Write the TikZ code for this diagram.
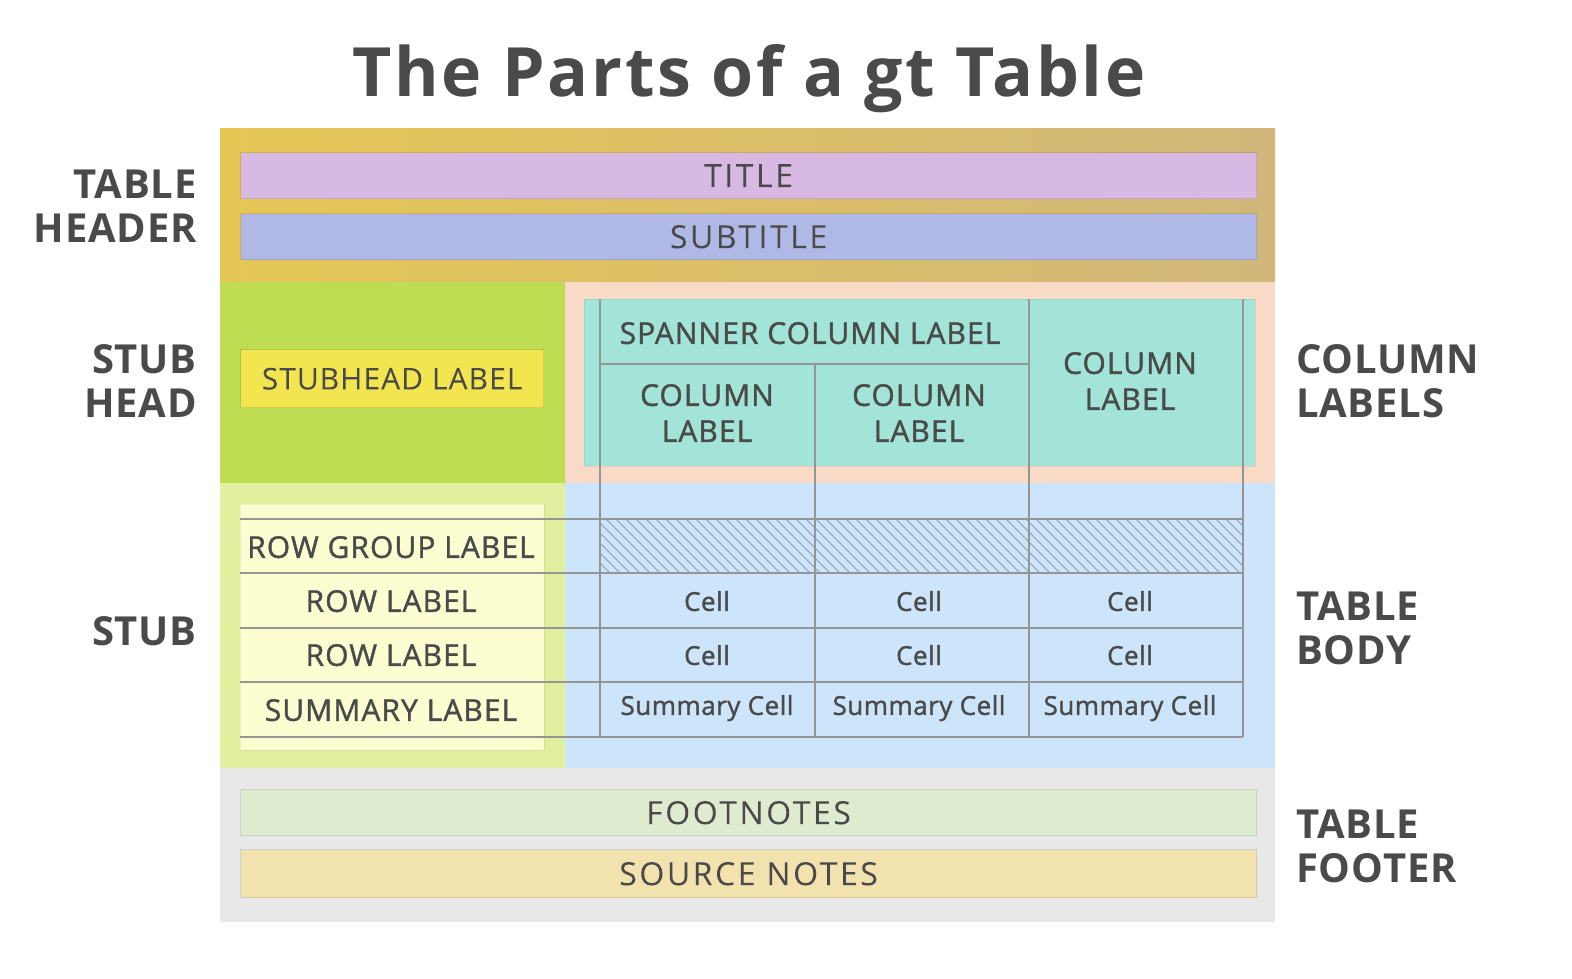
\documentclass[tikz,border=0pt]{standalone}
\usepackage{fontspec}
\setmainfont{Open Sans}
\newfontfamily\titlefont[LetterSpace=4]{Open Sans}
\newfontfamily\barfont[LetterSpace=8, FakeBold=1.3]{Open Sans}
\newfontfamily\labfont[LetterSpace=3.5, FakeBold=1.3]{Open Sans}
\newfontfamily\cellfont[LetterSpace=2, FakeBold=1.3]{Open Sans}
\newfontfamily\partfont[LetterSpace=2]{Open Sans}
\usepackage{xcolor}
\usepackage{tikz}
\usetikzlibrary{positioning}

\definecolor{ink}{HTML}{4A4A4A}
\definecolor{hdrA}{HTML}{E5C655}
\definecolor{hdrB}{HTML}{D1B77B}
\definecolor{titlebg}{HTML}{D8B9E3}
\definecolor{subtitlebg}{HTML}{B0B9E6}
\definecolor{stubheadbg}{HTML}{BFDD52}
\definecolor{collabbg}{HTML}{F8DAC6}
\definecolor{tealbg}{HTML}{A2E5D8}
\definecolor{stubheadlab}{HTML}{F3E54F}
\definecolor{stubbg}{HTML}{E0F09E}
\definecolor{stubbox}{HTML}{FCFED2}
\definecolor{bodybg}{HTML}{CCE5FA}
\definecolor{footerbg}{HTML}{E8E8E8}
\definecolor{footnotebg}{HTML}{DFEBCF}
\definecolor{sourcebg}{HTML}{F2E2AE}
\definecolor{gridgray}{HTML}{959595}
\definecolor{hatchgray}{HTML}{8C9BAA}

\begin{document}
\begin{tikzpicture}[x=1pt, y=-1pt]
        \tikzset{
            every node/.style={
                text=ink,
                align=center,
                inner sep=0pt,
                text depth=0pt,
            },
            bar/.style={
                draw=black, draw opacity=0.1, line width=1.2pt,
                anchor=north west,
                minimum width=1016pt, minimum height=46pt,
                font=\barfont\fontsize{32}{32}\selectfont,
            },
            part/.style={font=\partfont\bfseries\fontsize{40}{44}\selectfont},
            lab/.style={font=\labfont\fontsize{30}{36}\selectfont},
            cell/.style={font=\cellfont\fontsize{26}{26}\selectfont},
            gridline/.style={draw=gridgray, line width=2.6pt},
            hatch/.style={draw=hatchgray, line width=0.8pt},
        }
        \useasboundingbox (0,0) rectangle (1572,978);

        \node[font=\titlefont\bfseries\fontsize{68}{68}\selectfont] (heading) at (749,70) {The Parts of a gt Table};

        % regions
        \fill[left color=hdrA, right color=hdrB] (220,128) rectangle (1275,282);
        \fill[stubheadbg] (220,282) rectangle (565,483);
        \fill[collabbg] (565,282) rectangle (1275,483);
        \fill[stubbg] (220,483) rectangle (565,768);
        \fill[bodybg] (565,483) rectangle (1275,768);
        \fill[footerbg] (220,768) rectangle (1275,922);

        % header and footer bars
        \node[bar, fill=titlebg] (title) at (240,152) {TITLE};
        \node[bar, fill=subtitlebg] (subtitle) at (240,213) {SUBTITLE};
        \node[bar, fill=footnotebg] (footnotes) at (240,789) {FOOTNOTES};
        \node[bar, fill=sourcebg, minimum height=48pt] (sourcenotes) at (240,849) {SOURCE NOTES};

        % stub and column label boxes
        \node[bar, fill=stubheadlab, minimum width=303pt, minimum height=58pt, font=\labfont\fontsize{30}{30}\selectfont] (stubhead) at (240,349) {STUBHEAD LABEL};
        \fill[tealbg, draw=black, draw opacity=0.06] (584,299) rectangle (1255,466);
        \fill[stubbox, draw=black, draw opacity=0.06] (240,504) rectangle (544,750);

        % hatched row group cells
        \begin{scope}
            \clip (600,519) rectangle (1243,573);
            \foreach \i in {0,10,...,700}
                \draw[hatch] (546+\i,519) -- ++(54,54);
        \end{scope}

        % grid
        \coordinate (g0) at (600,299);
        \coordinate (g1) at (815,364);
        \coordinate (g2) at (1029,299);
        \coordinate (g3) at (1243,299);
        \foreach \g in {g0,g1,g2,g3}
            \draw[gridline] (\g) -- (\g |- 0,737);
        \draw[gridline] (g0 |- g1) -- (g2 |- g1);
        \foreach \y in {519,573,628,682,737}
            \draw[gridline] (240,\y) -- (g3 |- 0,\y);

        % column labels
        \node[lab] (spanner) at (810,333) {SPANNER COLUMN LABEL};
        \node[lab] (colA) at (707,413) {COLUMN\\LABEL};
        \node[lab] (colB) at (919,413) {COLUMN\\LABEL};
        \node[lab] (colC) at (1130,381) {COLUMN\\LABEL};

        % stub labels
        \node[lab] (rowgroup) at (391,547) {ROW GROUP LABEL};
        \node[lab] (rowA) at (391,601) {ROW LABEL};
        \node[lab] (rowB) at (391,655) {ROW LABEL};
        \node[lab] (summary) at (391,710) {SUMMARY LABEL};

        % body cells
        \foreach \x/\n in {707/A,919/B,1130/C} {
            \node[cell] (cell1\n) at (\x,601) {Cell};
            \node[cell] (cell2\n) at (\x,655) {Cell};
            \node[cell] (sumcell\n) at (\x,705) {Summary Cell};
        }

        % part names
        \node[part, anchor=east, align=right] (tableheader) at (197,206) {TABLE\\HEADER};
        \node[part, anchor=east, align=right] (stubheadname) at (197,381) {STUB\\HEAD};
        \node[part, anchor=east, align=right] (stubname) at (197,631) {STUB};
        \node[part, anchor=west, align=left] (collabels) at (1296,381) {COLUMN\\LABELS};
        \node[part, anchor=west, align=left] (tablebody) at (1296,628) {TABLE\\BODY};
        \node[part, anchor=west, align=left] (tablefooter) at (1296,846) {TABLE\\FOOTER};
    \end{tikzpicture}
\end{document}
